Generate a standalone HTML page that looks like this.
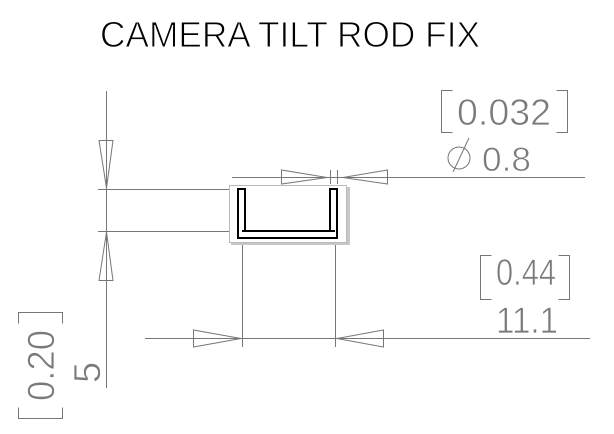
<!DOCTYPE html>
<html><head><style>html,body{margin:0;padding:0;background:#fff;}svg{display:block}</style></head>
<body>
<svg width="614" height="434" viewBox="0 0 614 434" xmlns="http://www.w3.org/2000/svg">
<g font-family="Liberation Sans, sans-serif">
<text x="100" y="47" font-size="36" fill="#000" textLength="380" lengthAdjust="spacingAndGlyphs" stroke="#fff" stroke-width="1" paint-order="normal">CAMERA TILT ROD FIX</text>
</g>
<g stroke="#777" stroke-width="1" fill="none">
<line x1="106.5" y1="91" x2="106.5" y2="388"/>
<line x1="98" y1="189.5" x2="240" y2="189.5"/>
<line x1="98" y1="231.5" x2="240" y2="231.5"/>
<polygon points="99,140.5 113,140.5 106.5,188"/>
<polygon points="99,280.5 113,280.5 106.5,232"/>
<line x1="232" y1="177.5" x2="585" y2="177.5"/>
<polygon points="281.5,170 281.5,184 327,177.5"/>
<polygon points="387.5,170 387.5,184 343,177.5"/>
<line x1="330.5" y1="170" x2="330.5" y2="184"/>
<line x1="337.5" y1="170" x2="337.5" y2="184"/>
<line x1="242.5" y1="243" x2="242.5" y2="347"/>
<line x1="335.5" y1="243" x2="335.5" y2="347"/>
<line x1="145" y1="338.5" x2="590" y2="338.5"/>
<polygon points="193.5,330 193.5,347 241,338.5"/>
<polygon points="383.5,330 383.5,347 337,338.5"/>
</g>
<rect x="231" y="187" width="119" height="58" fill="#c8c8c8"/>
<rect x="229.5" y="185.5" width="117" height="57" fill="#fff" stroke="#bbb" stroke-width="1"/>
<path d="M238,189 H245 V231 H330 V189 H337 V238 H238 Z" fill="none" stroke="#000" stroke-width="2"/>
<line x1="242" y1="231" x2="335" y2="231" stroke="#000" stroke-width="2"/>
<g fill="#7a7a7a" font-family="Liberation Sans, sans-serif" stroke="#fff" stroke-width="0.7">
<text x="457" y="125" font-size="37" textLength="94" lengthAdjust="spacingAndGlyphs">0.032</text>
<text x="482" y="171" font-size="34" textLength="49" lengthAdjust="spacingAndGlyphs">0.8</text>
<text x="496" y="285" font-size="37" textLength="60" lengthAdjust="spacingAndGlyphs">0.44</text>
<text x="496" y="333" font-size="37" textLength="62" lengthAdjust="spacingAndGlyphs">11.1</text>
<text transform="translate(54,401) rotate(-90)" font-size="38" textLength="71" lengthAdjust="spacingAndGlyphs">0.20</text>
<text transform="translate(100,383) rotate(-90)" font-size="38">5</text>
</g>
<g stroke="#777" stroke-width="1" fill="none">
<path d="M452.5,90.5 H441.5 V132.5 H452.5"/>
<path d="M556.5,90.5 H567.5 V132.5 H556.5"/>
<circle cx="459" cy="158" r="11"/>
<line x1="469" y1="138" x2="453" y2="172"/>
<path d="M491.5,255.5 H480.5 V299.5 H491.5"/>
<path d="M558.5,255.5 H569.5 V299.5 H558.5"/>
<path d="M18.5,323.5 V312.5 H62.5 V323.5"/>
<path d="M18.5,407.5 V418.5 H62.5 V407.5"/>
</g>
</svg>
</body></html>
